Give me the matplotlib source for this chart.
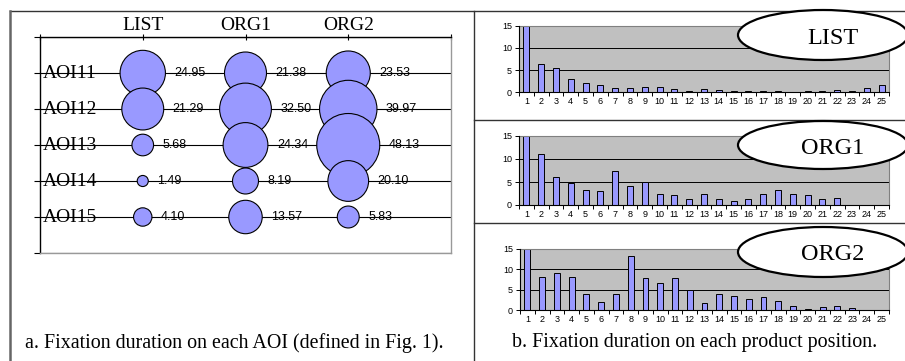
import numpy as np
import matplotlib
matplotlib.use("Agg")
from matplotlib import pyplot as plt
from matplotlib.patches import Ellipse
from matplotlib.lines import Line2D

# bubble chart data (fixation duration on each AOI)
aois = ["AOI11", "AOI12", "AOI13", "AOI14", "AOI15"]
layouts = ["LIST", "ORG1", "ORG2"]
list_aoi = [24.95, 21.29, 5.68, 1.49, 4.10]
org1_aoi = [21.38, 32.50, 24.34, 8.19, 13.57]
org2_aoi = [23.53, 39.97, 48.13, 20.10, 5.83]

# bar chart data (fixation duration on each product position)
positions = list(range(1, 26))
list_pos = [15.5, 6.4, 5.4, 3.0, 2.0, 1.6, 1.0, 1.0, 1.3, 1.3, 0.8, 0.3, 0.7,
            0.5, 0.2, 0.2, 0.2, 0.2, 0.0, 0.2, 0.2, 0.5, 0.4, 1.0, 1.6]
org1_pos = [15.5, 11.0, 6.0, 4.8, 3.3, 3.0, 7.4, 4.1, 4.9, 2.4, 2.2, 1.4, 2.4,
            1.4, 0.9, 1.2, 2.4, 3.3, 2.4, 2.1, 1.4, 1.6, 0.0, 0.0, 0.0]
org2_pos = [15.5, 8.2, 9.2, 8.2, 3.9, 2.1, 4.0, 13.3, 7.8, 6.6, 7.8, 5.0, 1.7,
            3.9, 3.5, 2.8, 3.3, 2.2, 1.1, 0.4, 0.7, 1.1, 0.6, 0.0, 0.0]

W, H = 905, 361
SERIF = "Liberation Serif"
SANS = "Liberation Sans"
BUBBLE = "#9999FF"


def box(x0, y0, x1, y1):
    # pixel box (top-left origin) -> figure fraction rect
    return [x0 / W, 1 - y1 / H, (x1 - x0) / W, (y1 - y0) / H]


def fline(fig, xs, ys, color="#333333", lw=1.0):
    fig.add_artist(Line2D([x / W for x in xs], [1 - y / H for y in ys],
                          transform=fig.transFigure, color=color, lw=lw))


fig = plt.figure(figsize=(W / 100, H / 100), dpi=100)

# frame lines
fline(fig, [10, W], [11, 11])
fline(fig, [10, 10], [11, H], color="#666666", lw=1.8)
fline(fig, [474, 474], [11, H])
fline(fig, [474, W], [120, 120])
fline(fig, [474, W], [223, 223])

# ---- a. bubble chart
ax = fig.add_axes(box(40, 37, 451, 253))
ax.set_xlim(0, 4)
ax.set_ylim(6, 0)
maxv = max(max(list_aoi), max(org1_aoi), max(org2_aoi))
rmax = 31.5  # radius in px of the biggest bubble
rows = np.arange(1, len(aois) + 1)
for j, vals in enumerate([list_aoi, org1_aoi, org2_aoi]):
    vals = np.array(vals)
    r = rmax * np.sqrt(vals / maxv)
    ax.scatter(np.full(len(vals), j + 1), rows, s=(2 * r * 0.72) ** 2,
               color=BUBBLE, edgecolor="black", linewidth=0.8, zorder=2)
    for yy, v, rr in zip(rows, vals, r):
        ax.annotate("%.2f" % v, (j + 1, yy), xytext=((rr + 9) * 0.72, 0),
                    textcoords="offset points", va="center", ha="left",
                    fontsize=9, family=SANS, zorder=3)
for yy, name in zip(rows, aois):
    ax.annotate(name, (0, yy), xytext=(2, 0), textcoords="offset points",
                va="center", ha="left", fontsize=14, family=SERIF, zorder=3)

ax.xaxis.tick_top()
ax.set_xticks(range(0, 5), [""] + layouts + [""])
ax.tick_params(axis="x", direction="inout", length=5, width=0.8, pad=0,
               labelsize=14)
for lab in ax.get_xticklabels():
    lab.set_family(SERIF)
ax.set_yticks(range(0, 7), [""] * 7)
ax.tick_params(axis="y", direction="out", length=4, width=0.8)
ax.grid(axis="y", color="black", lw=0.8)
ax.set_axisbelow(True)
ax.spines["top"].set_linewidth(1.0)
ax.spines["left"].set_linewidth(1.0)
for side in ["bottom", "right"]:
    ax.spines[side].set_color("#999999")
    ax.spines[side].set_linewidth(1.0)

fig.text(25 / W, 1 - 343 / H,
         "a. Fixation duration on each AOI (defined in Fig. 1).",
         family=SERIF, fontsize=14.4, va="center", ha="left")

# ---- b. bar charts
panels = [
    ("LIST", list_pos, (519, 25.7, 889, 92.3), (823, 35, 170, 50)),
    ("ORG1", org1_pos, (519, 136, 889, 205), (823, 145, 170, 48)),
    ("ORG2", org2_pos, (520, 249, 889, 310.3), (823, 252, 170, 50)),
]
for name, vals, rect, ell in panels:
    bx = fig.add_axes(box(*rect))
    bx.set_facecolor("#C0C0C0")
    bx.bar(positions, vals, width=0.4, color=BUBBLE, edgecolor="black",
           linewidth=0.7, zorder=2)
    bx.set_xlim(0.5, len(positions) + 0.5)
    bx.set_ylim(0, 15)
    bx.set_yticks([0, 5, 10, 15])
    bx.set_xticks(positions, [str(p) for p in positions])
    bx.set_xticks(np.arange(0.5, len(positions) + 1, 1), minor=True)
    bx.tick_params(axis="x", which="major", length=0, pad=3.5, labelsize=6.5)
    bx.tick_params(axis="x", which="minor", length=3, width=0.7)
    bx.tick_params(axis="y", length=3, width=0.7, pad=2, labelsize=6.5)
    for lab in bx.get_xticklabels() + bx.get_yticklabels():
        lab.set_family(SANS)
    bx.grid(axis="y", color="black", lw=0.7)
    bx.set_axisbelow(True)
    for side in ["top", "right"]:
        bx.spines[side].set_color("#808080")
    for side in ["bottom", "left"]:
        bx.spines[side].set_linewidth(0.8)
        bx.spines[side].set_zorder(3)

    cx, cy, ew, eh = ell
    fig.add_artist(Ellipse((cx / W, 1 - cy / H), ew / W, eh / H,
                           transform=fig.transFigure, facecolor="white",
                           edgecolor="black", lw=1.6, zorder=5))
    fig.text(833 / W, 1 - (cy + 3) / H, name, family=SERIF, fontsize=17.5,
             va="center", ha="center", zorder=6)

fig.text(512 / W, 1 - 343 / H, "b. Fixation duration on each product position.",
         family=SERIF, fontsize=14.4, va="center", ha="left")

fig.savefig("out.png", dpi=100)
